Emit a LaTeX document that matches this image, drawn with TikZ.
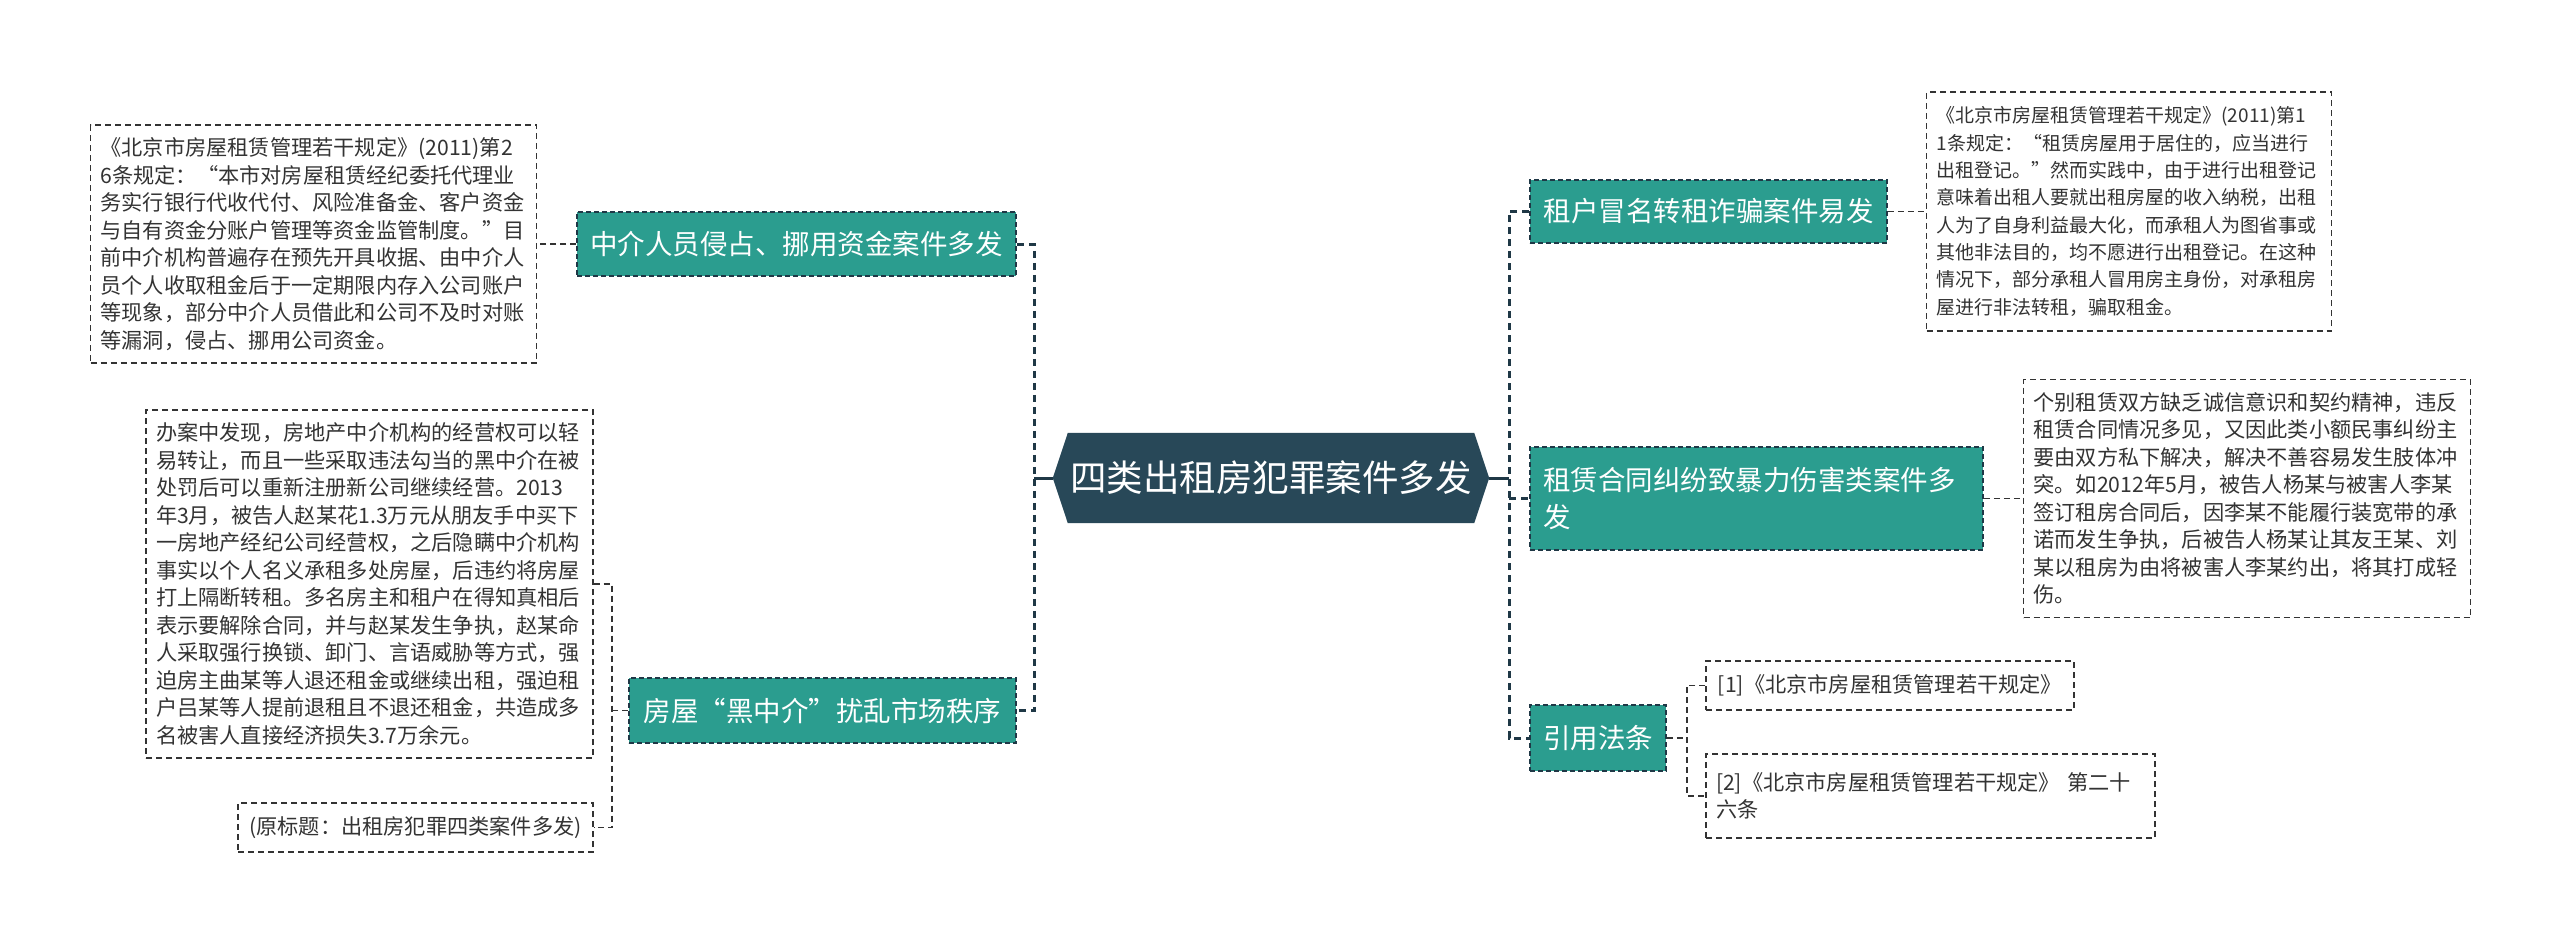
\documentclass[tikz,border=0pt]{standalone}
\usepackage{fontspec}
\usepackage{xcolor}
\usepackage{tikz}
\usetikzlibrary{positioning, backgrounds}
\newfontfamily\cjkfont{Noto Sans CJK SC}
\definecolor{RentSlate}{RGB}{40, 72, 88}
\definecolor{RentTeal}{RGB}{43, 157, 143}
\definecolor{RentLine}{RGB}{31, 56, 70}
\definecolor{RentText}{RGB}{51, 51, 51}

\begin{document}
\begin{tikzpicture}[
    x=1pt, y=-1pt,
    root/.style={rectangle, text width=406pt, align=center, minimum height=90pt, inner sep=0pt, text=white, font=\cjkfont\fontsize{36.5}{44}\selectfont},
    topic/.style={rectangle, fill=RentTeal, draw=RentLine, line width=1.6pt, dash pattern=on 5pt off 3pt, text=white, align=left, inner xsep=13pt, inner ysep=0pt, minimum height=64pt, font=\cjkfont\fontsize{27.5}{37.5}\selectfont},
    note/.style={rectangle, draw=RentText, line width=1.4pt, dash pattern=on 6pt off 4pt, fill=white, text=RentText, align=left, inner xsep=10pt, inner ysep=0pt, font=\cjkfont\fontsize{21.2}{27.5}\selectfont},
    mainlink/.style={draw=RentLine, line width=3pt, dash pattern=on 7pt off 5pt},
    rootlink/.style={draw=RentLine, line width=3pt},
    sublink/.style={draw=RentText, line width=1.4pt, dash pattern=on 6pt off 4pt}
  ]
  \useasboundingbox (0,0) rectangle (2560,945);

  \node[root] (root) at (1271,478) {四类出租房犯罪案件多发};
  \begin{scope}[on background layer]
    \fill[white] (0,0) rectangle (2560,945);
    \fill[RentSlate] (root.north west) -- (root.north east) -- ([xshift=15pt]root.east) -- (root.south east) -- (root.south west) -- ([xshift=-15pt]root.west) -- cycle;
  \end{scope}

  % left side
  \node[topic, minimum width=439pt] (agent) at (796.5,244) {中介人员侵占、挪用资金案件多发};
  \node[topic, minimum width=387pt, minimum height=65pt] (black) at (822.5,710.5) {房屋“黑中介”扰乱市场秩序};
  \node[note, text width=426pt, minimum height=238pt, left=39pt of agent] (agentnote) {《北京市房屋租赁管理若干规定》(2011)第2\\6条规定：“本市对房屋租赁经纪委托代理业\\务实行银行代收代付、风险准备金、客户资金\\与自有资金分账户管理等资金监管制度。”目\\前中介机构普遍存在预先开具收据、由中介人\\员个人收取租金后于一定期限内存入公司账户\\等现象，部分中介人员借此和公司不及时对账\\等漏洞，侵占、挪用公司资金。};
  \node[note, text width=427pt, minimum height=348pt] (blacknote) at (369.5,584) {办案中发现，房地产中介机构的经营权可以轻\\易转让，而且一些采取违法勾当的黑中介在被\\处罚后可以重新注册新公司继续经营。2013\\年3月，被告人赵某花1.3万元从朋友手中买下\\一房地产经纪公司经营权，之后隐瞒中介机构\\事实以个人名义承租多处房屋，后违约将房屋\\打上隔断转租。多名房主和租户在得知真相后\\表示要解除合同，并与赵某发生争执，赵某命\\人采取强行换锁、卸门、言语威胁等方式，强\\迫房主曲某等人退还租金或继续出租，强迫租\\户吕某等人提前退租且不退还租金，共造成多\\名被害人直接经济损失3.7万余元。};
  \node[note, minimum width=355pt, minimum height=49pt] (source) at (415.5,827.5) {(原标题：出租房犯罪四类案件多发)};

  % right side
  \node[topic, minimum width=357pt, minimum height=63pt] (sublet) at (1708.5,211.5) {租户冒名转租诈骗案件易发};
  \node[topic, text width=427pt, minimum height=103pt] (dispute) at (1756.5,498.5) {租赁合同纠纷致暴力伤害类案件多\\发};
  \node[topic, minimum width=136pt, minimum height=66pt] (laws) at (1598,738) {引用法条};
  \node[note, text width=385pt, minimum height=239pt, right=38pt of sublet, font=\cjkfont\fontsize{19}{27.3}\selectfont] (subletnote) {《北京市房屋租赁管理若干规定》(2011)第1\\1条规定：“租赁房屋用于居住的，应当进行\\出租登记。”然而实践中，由于进行出租登记\\意味着出租人要就出租房屋的收入纳税，出租\\人为了自身利益最大化，而承租人为图省事或\\其他非法目的，均不愿进行出租登记。在这种\\情况下，部分承租人冒用房主身份，对承租房\\屋进行非法转租，骗取租金。};
  \node[note, text width=427pt, minimum height=238pt, right=39pt of dispute] (disputenote) {个别租赁双方缺乏诚信意识和契约精神，违反\\租赁合同情况多见，又因此类小额民事纠纷主\\要由双方私下解决，解决不善容易发生肢体冲\\突。如2012年5月，被告人杨某与被害人李某\\签订租房合同后，因李某不能履行装宽带的承\\诺而发生争执，后被告人杨某让其友王某、刘\\某以租房为由将被害人李某约出，将其打成轻\\伤。};
  \node[note, minimum width=368pt, minimum height=49pt] (lawone) at (1890,685.5) {[1]《北京市房屋租赁管理若干规定》};
  \node[note, text width=429pt, minimum height=84pt] (lawtwo) at (1930.5,796) {[2]《北京市房屋租赁管理若干规定》 第二十\\六条};

  \coordinate (leftfork) at (1034,478);
  \coordinate (rightfork) at (1509,478);
  \coordinate (blackfork) at (612,710.5);
  \coordinate (lawfork) at (1687,738);

  \draw[rootlink] ([xshift=-15pt]root.west) -- (leftfork);
  \draw[rootlink] ([xshift=15pt]root.east) -- (rightfork);
  \draw[mainlink] (agent.east) -| (leftfork) |- (black.east);
  \draw[mainlink] (sublet.west) -| (rightfork) |- (laws.west);
  \draw[mainlink] (rightfork |- dispute.west) -- (dispute.west);

  \draw[sublink] (agent.west) -- (agentnote.east);
  \draw[sublink] (black.west) -- (blackfork);
  \draw[sublink] (blacknote.east) -| (blackfork) |- (source.east);
  \draw[sublink] (sublet.east) -- (subletnote.west);
  \draw[sublink] (dispute.east) -- (disputenote.west);
  \draw[sublink] (laws.east) -- (lawfork);
  \draw[sublink] (lawone.west) -| (lawfork) |- (lawtwo.west);
\end{tikzpicture}
\end{document}
